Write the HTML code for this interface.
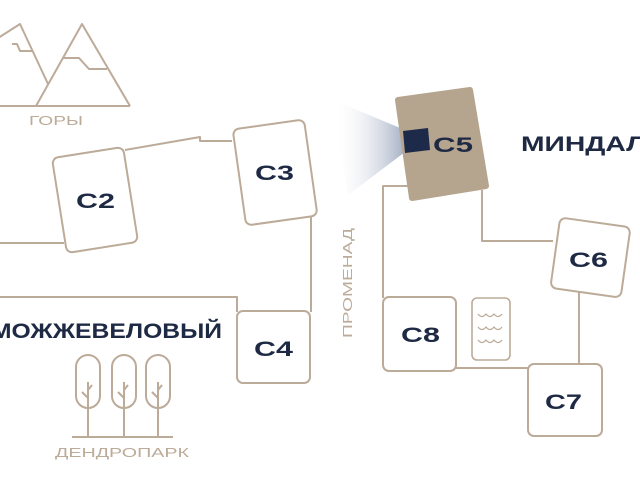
<!DOCTYPE html>
<html><head><meta charset="utf-8"><style>
html,body{margin:0;padding:0;background:#fff;}
svg{display:block;}
text{font-family:"Liberation Sans","DejaVu Sans",sans-serif;}
</style></head><body>
<svg width="640" height="480" viewBox="0 0 640 480" xmlns="http://www.w3.org/2000/svg">
<defs>
<linearGradient id="cone" x1="0" y1="0" x2="1" y2="0">
<stop offset="0" stop-color="#ffffff" stop-opacity="0"/>
<stop offset="1" stop-color="#9aa6bd" stop-opacity="0.9"/>
</linearGradient>
</defs>
<g fill="none" stroke="#bcab98" stroke-width="2" stroke-linejoin="round">
<polyline points="-5,40 20,24 48,84"/>
<line x1="-5" y1="106" x2="130" y2="106"/>
<polyline points="36,106 82,24 130,106"/>
<polyline points="12,44 17,44 20,51 32,51"/>
<polyline points="63,58 79,58 89,69 107,69"/>
<line x1="0" y1="243" x2="64" y2="243"/>
<polyline points="125,150 200,137 200,141 232,141"/>
<polyline points="311,217 311,312"/>
<polyline points="0,297 237,297 237,312"/>
<polyline points="410,186 383,186 383,298"/>
<polyline points="482,190 482,241 553,241"/>
<line x1="579" y1="292" x2="579" y2="365"/>
<line x1="456" y1="368" x2="528" y2="368"/>
<rect x="-36" y="-48" width="72" height="96" rx="6" transform="translate(95,200) rotate(-9)" fill="#fff"/>
<rect x="-36" y="-48" width="72" height="97" rx="6" transform="translate(275,172) rotate(-8)" fill="#fff"/>
<rect x="237" y="311" width="73" height="72" rx="6" fill="#fff"/>
<rect x="-35" y="-35" width="71" height="71" rx="6" transform="translate(590,257) rotate(8)" fill="#fff"/>
<rect x="383" y="297" width="73" height="74" rx="6" fill="#fff"/>
<rect x="472" y="298" width="38" height="62" rx="5" fill="#fff" stroke-width="1.6"/>
<rect x="528" y="364" width="74" height="72" rx="6" fill="#fff"/>
<g stroke-width="1.3">
<path d="M478,314 q4,5 8,0 q4,5 8,0 q4,5 8,0"/>
<path d="M478,327 q4,5 8,0 q4,5 8,0 q4,5 8,0"/>
<path d="M478,340 q4,5 8,0 q4,5 8,0 q4,5 8,0"/>
</g>
<rect x="76" y="355" width="24" height="53" rx="12"/>
<rect x="112" y="355" width="24" height="53" rx="12"/>
<rect x="146" y="355" width="24" height="53" rx="12"/>
<path d="M88,382 V437 M88,398 l-6,-6 M88,390 l4,-5 M88,386 v-4"/>
<path d="M124,382 V437 M124,398 l-6,-6 M124,390 l4,-5"/>
<path d="M158,382 V437 M158,398 l-6,-6 M158,390 l4,-5"/>
<line x1="72" y1="437" x2="173" y2="437"/>
</g>
<polygon points="333,100 405,130 405,152 348,195" fill="url(#cone)"/>
<polygon points="398,100 470,90 486,186 412,198" fill="#b5a48e" stroke="#b5a48e" stroke-width="6" stroke-linejoin="round"/>
<polygon points="403,131 428,128 430,150 405,153" fill="#1e2a4a"/>
<g fill="#1e2a44" font-weight="bold" font-size="21">
<text x="76" y="208" textLength="39" lengthAdjust="spacingAndGlyphs">C2</text>
<text x="255" y="180" textLength="39" lengthAdjust="spacingAndGlyphs">C3</text>
<text x="254" y="356" textLength="39" lengthAdjust="spacingAndGlyphs">C4</text>
<text x="433" y="152" textLength="40" lengthAdjust="spacingAndGlyphs">C5</text>
<text x="569" y="267" textLength="39" lengthAdjust="spacingAndGlyphs">C6</text>
<text x="401" y="342" textLength="39" lengthAdjust="spacingAndGlyphs">C8</text>
<text x="545" y="409" textLength="37" lengthAdjust="spacingAndGlyphs">C7</text>
<text x="521" y="151" font-size="21" textLength="125" lengthAdjust="spacingAndGlyphs">МИНДАЛ</text>
<text x="-9" y="338" font-size="21" textLength="231" lengthAdjust="spacingAndGlyphs">МОЖЖЕВЕЛОВЫЙ</text>
</g>
<g fill="#bcab98" font-size="13">
<text x="29" y="125" textLength="54" lengthAdjust="spacingAndGlyphs">ГОРЫ</text>
<text x="55" y="457" textLength="134" lengthAdjust="spacingAndGlyphs">ДЕНДРОПАРК</text>
<text x="0" y="0" transform="translate(352,338) rotate(-90)" textLength="110" lengthAdjust="spacingAndGlyphs">ПРОМЕНАД</text>
</g>
</svg>
</body></html>
